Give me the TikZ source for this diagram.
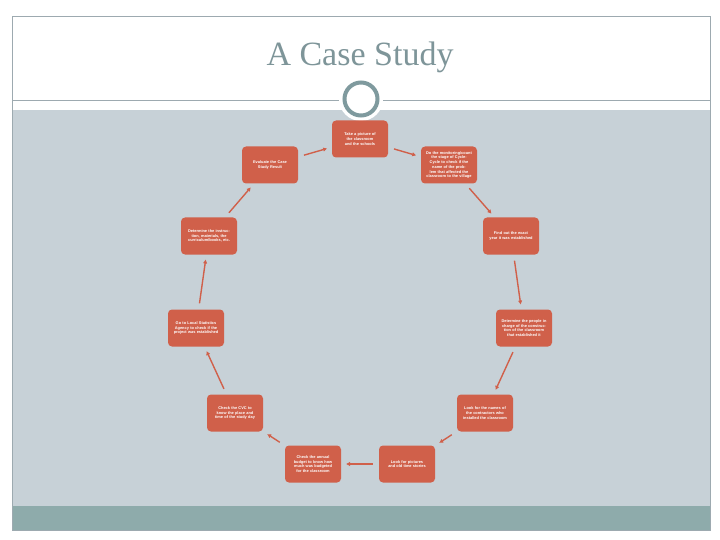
\documentclass[tikz,border=0pt]{standalone}
\usepackage{fontspec}
\setmainfont{Liberation Serif}
\newfontfamily\boxfont{Liberation Sans}
\usetikzlibrary{arrows.meta}
\definecolor{boxred}{HTML}{D0604A}
\definecolor{panel}{HTML}{C7D1D7}
\definecolor{band}{HTML}{8EABAB}
\definecolor{frameline}{HTML}{9DAAB0}
\definecolor{titlecol}{HTML}{7E9599}
\definecolor{ringcol}{HTML}{7F9A9E}
\tikzset{
  stepbox/.style={fill=boxred, rounded corners=4pt, minimum width=56pt, minimum height=37pt,
    text width=48pt, align=center, inner sep=1pt, text=white,
    font=\boxfont\fontsize{3.9}{4.7}\selectfont\bfseries},
  arr/.style={draw=boxred, line width=1.4pt, -{Triangle[length=3.8pt,width=3.8pt]},
    shorten <=6pt, shorten >=5pt}
}
\begin{document}
\begin{tikzpicture}[x=1pt,y=-1pt]
\useasboundingbox (0,0) rectangle (720,540);
\fill[white] (0,0) rectangle (720,540);
% panel and band
\fill[panel] (12,110) rectangle (710,506);
\fill[band] (12,506) rectangle (710,530);
\draw[frameline, line width=0.6pt] (12,16) rectangle (710,530);
\draw[frameline, line width=0.8pt] (12,100) -- (710,100);
% title
\node[text=titlecol, font=\fontsize{34}{38}\selectfont] (title) at (360,57) {A Case Study};
% ring
\fill[white] (361,99) circle (22);
\draw[ringcol, line width=4pt] (361,99) circle (16.5);
\coordinate (ring) at (361,99);
% boxes
\node[stepbox] (n1) at (360,139) {Take a picture of the classroom and the schools};
\node[stepbox] (n2) at (449,165) {Do the monitoring/count the stage of Cycle-Cycle to check if the name of the problem that affected the classroom to the village};
\node[stepbox] (n3) at (511,236) {Find out the exact year it was established};
\node[stepbox] (n4) at (524,328) {Determine the people in charge of the construction of the classroom that established it};
\node[stepbox] (n5) at (485,413) {Look for the names of the contractors who installed the classroom};
\node[stepbox] (n6) at (407,464) {Look for pictures and old time stories};
\node[stepbox] (n7) at (313,464) {Check the annual budget to know how much was budgeted for the classroom};
\node[stepbox] (n8) at (235,413) {Check the CVC to know the place and time of the study day};
\node[stepbox] (n9) at (196,328) {Go to Local Statistics Agency to check if the project was established};
\node[stepbox] (n10) at (209,236) {Determine the instruction, materials, the curriculum/books, etc.};
\node[stepbox] (n11) at (270,165) {Evaluate the Case Study Result};
% arrows
\draw[arr] (n1) -- (n2);
\draw[arr] (n2) -- (n3);
\draw[arr] (n3) -- (n4);
\draw[arr] (n4) -- (n5);
\draw[arr] (n5) -- (n6);
\draw[arr] (n6) -- (n7);
\draw[arr] (n7) -- (n8);
\draw[arr] (n8) -- (n9);
\draw[arr] (n9) -- (n10);
\draw[arr] (n10) -- (n11);
\draw[arr] (n11) -- (n1);
\end{tikzpicture}
\end{document}
